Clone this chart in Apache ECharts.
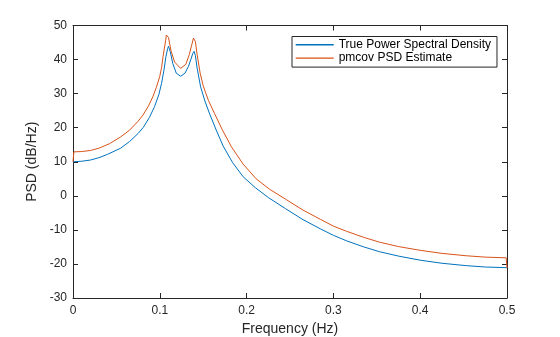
<!DOCTYPE html>
<html>
<head>
<meta charset="utf-8">
<script src="https://cdn.jsdelivr.net/npm/echarts@6/dist/echarts.min.js"></script>
<style>html,body{margin:0;padding:0;background:#fff;overflow:hidden}#c{width:560px;height:337px}</style>
</head>
<body>
<div id="c"></div>
<script>
// Series names
const seriesNames = ['True Power Spectral Density', 'pmcov PSD Estimate'];

// True PSD
const trueFreq = [0, 0.01, 0.02, 0.03, 0.04, 0.055, 0.065, 0.075, 0.081, 0.088, 0.094, 0.099, 0.102, 0.105, 0.107, 0.109, 0.110, 0.111, 0.112, 0.115, 0.119, 0.124, 0.129, 0.133, 0.136, 0.138, 0.1395, 0.141, 0.143, 0.147, 0.152, 0.1575, 0.165, 0.173, 0.184, 0.196, 0.21, 0.225, 0.245, 0.265, 0.285, 0.30, 0.315, 0.335, 0.353, 0.375, 0.40, 0.425, 0.453, 0.475, 0.5];
const truePsd = [10.0, 10.15, 10.5, 11.2, 12.2, 14.0, 15.9, 18.3, 20.1, 23.0, 26.2, 29.8, 33.0, 37.2, 40.8, 43.2, 43.9, 43.5, 42.4, 38.8, 36.0, 35.1, 36.0, 38.0, 40.2, 41.8, 42.4, 41.2, 37.5, 32.0, 27.8, 24.0, 19.3, 14.6, 9.7, 5.6, 2.4, -0.5, -3.8, -7.0, -9.7, -11.6, -13.2, -15.0, -16.4, -17.7, -18.9, -19.8, -20.5, -20.9, -21.1];

// pmcov estimate
const estFreq = [0, 0.001, 0.01, 0.02, 0.03, 0.042, 0.055, 0.0653, 0.075, 0.0806, 0.087, 0.092, 0.096, 0.0999, 0.102, 0.1037, 0.1068, 0.1076, 0.1083, 0.109, 0.110, 0.113, 0.117, 0.124, 0.130, 0.134, 0.137, 0.1388, 0.1395, 0.1402, 0.141, 0.143, 0.1465, 0.150, 0.156, 0.163, 0.172, 0.1825, 0.196, 0.211, 0.2266, 0.245, 0.265, 0.285, 0.30, 0.315, 0.335, 0.353, 0.375, 0.40, 0.425, 0.453, 0.475, 0.499, 0.5];
const estPsd = [10.0, 12.9, 13.0, 13.3, 14.0, 15.3, 17.3, 19.3, 21.9, 23.7, 26.4, 29.1, 31.8, 35.0, 37.6, 40.8, 45.7, 47.2, 47.7, 47.4, 46.5, 42.5, 39.3, 37.4, 38.6, 41.5, 44.5, 46.3, 46.6, 46.3, 45.3, 41.5, 36.0, 32.3, 28.0, 24.2, 19.4, 14.4, 9.3, 5.0, 1.9, -1.0, -4.2, -6.9, -8.9, -10.4, -12.2, -13.6, -14.9, -16.0, -16.9, -17.6, -18.0, -18.2, -21.2];

// Axis ticks
const xTicks = [0, 0.1, 0.2, 0.3, 0.4, 0.5];
const yTicks = [-30, -20, -10, 0, 10, 20, 30, 40, 50];

const pair = (fs, vs) => fs.map((f, i) => [f, vs[i]]);
const axisColor = '#262626';
const font = 'Liberation Sans, Arial, Helvetica, sans-serif';

const xBase = {
  type: 'value', min: xTicks[0], max: xTicks[xTicks.length - 1], interval: 0.1,
  axisLine: { show: true, onZero: false, lineStyle: { color: axisColor, width: 1 } },
  axisTick: { show: true, inside: true, length: 5, lineStyle: { color: axisColor } },
  splitLine: { show: false }
};
const yBase = {
  type: 'value', min: yTicks[0], max: yTicks[yTicks.length - 1], interval: 10,
  axisLine: { show: true, onZero: false, lineStyle: { color: axisColor, width: 1 } },
  axisTick: { show: true, inside: true, length: 5, lineStyle: { color: axisColor } },
  splitLine: { show: false }
};

const chart = echarts.init(document.getElementById('c'), null, { renderer: 'canvas', width: 560, height: 337 });
chart.setOption({
  animation: false,
  backgroundColor: '#ffffff',
  textStyle: { fontFamily: font },
  grid: { left: 73, right: 53, top: 25.5, bottom: 39, containLabel: false, outerBoundsMode: 'none' },
  legend: {
    orient: 'vertical', left: 292, top: 36.5,
    data: seriesNames,
    icon: 'rect',
    itemWidth: 38, itemHeight: 1.4, itemGap: 1.3,
    padding: [2.3, 6, 3, 3.7],
    borderColor: axisColor, borderWidth: 1, backgroundColor: '#ffffff',
    textStyle: { fontSize: 12, lineHeight: 12, color: '#000000', fontFamily: font }
  },
  xAxis: [
    Object.assign({}, xBase, {
      position: 'bottom',
      axisLabel: { show: true, color: axisColor, fontSize: 12, margin: 7, fontFamily: font,
        showMinLabel: true, showMaxLabel: true },
      name: 'Frequency (Hz)', nameLocation: 'middle', nameGap: 23,
      nameTextStyle: { color: axisColor, fontSize: 14, fontFamily: font }
    }),
    Object.assign({}, xBase, { position: 'top', axisLabel: { show: false } })
  ],
  yAxis: [
    Object.assign({}, yBase, {
      position: 'left',
      axisLabel: { show: true, color: axisColor, fontSize: 12, margin: 6, fontFamily: font,
        showMinLabel: true, showMaxLabel: true },
      name: 'PSD (dB/Hz)', nameLocation: 'middle', nameGap: 29, nameRotate: 90,
      nameTextStyle: { color: axisColor, fontSize: 14, fontFamily: font }
    }),
    Object.assign({}, yBase, { position: 'right', axisLabel: { show: false } })
  ],
  series: [
    { name: seriesNames[0], type: 'line', symbol: 'none', smooth: false,
      xAxisIndex: 0, yAxisIndex: 0,
      lineStyle: { color: '#0072BD', width: 1 }, itemStyle: { color: '#0072BD' },
      data: pair(trueFreq, truePsd) },
    { name: seriesNames[1], type: 'line', symbol: 'none', smooth: false,
      xAxisIndex: 0, yAxisIndex: 0,
      lineStyle: { color: '#D95319', width: 1 }, itemStyle: { color: '#D95319' },
      data: pair(estFreq, estPsd) }
  ]
});
</script>
</body>
</html>
